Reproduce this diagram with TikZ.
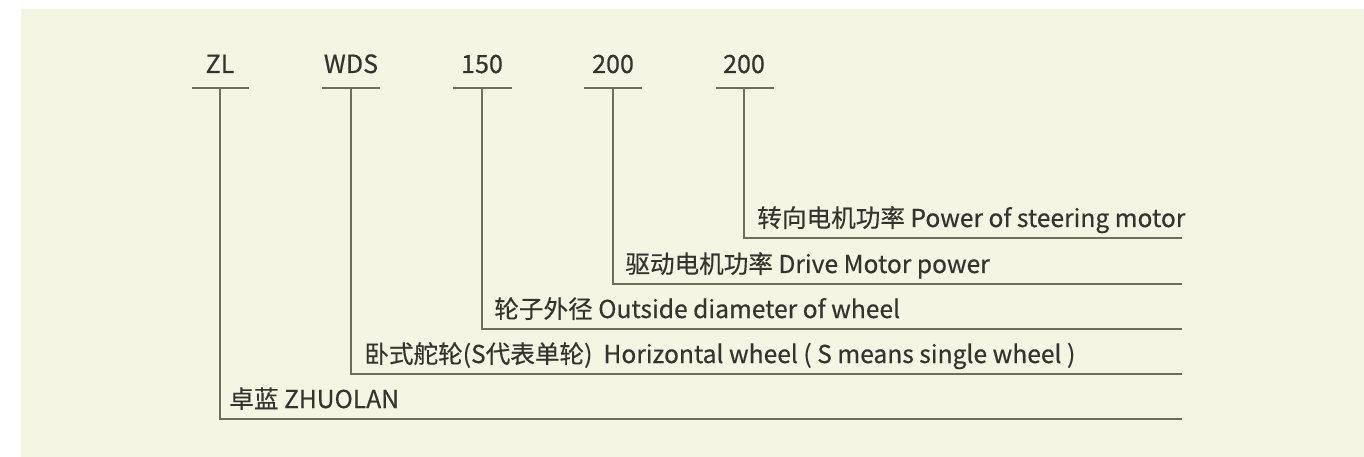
\documentclass[tikz,border=0pt]{standalone}
\usepackage{fontspec}
\setmainfont[FakeBold=0.4]{Noto Sans CJK SC}
\usetikzlibrary{positioning}

\definecolor{paper}{HTML}{F4F5E3}
\definecolor{rule}{HTML}{6E6E5E}
\definecolor{ink}{HTML}{34342F}

\begin{document}
\begin{tikzpicture}[
        x=0.2mm, y=-0.2mm,
        code/.style={
            anchor=base, inner sep=0pt, text=ink,
            font=\fontsize{14.3}{16}\selectfont
        },
        desc/.style={
            anchor=base west, inner sep=0pt, text=ink,
            font=\fontsize{14}{16}\selectfont
        },
        ln/.style={draw=rule, line width=1.1pt}
    ]

    % page and panel
    \fill[white] (0,0) rectangle (1364,457);
    \fill[paper] (21,9) rectangle (1364,457);

    % ZL
    \node[code] (c1) at (220,73) {ZL};
    \coordinate (l1) at (192,88);
    \coordinate (r1) at (249,88);
    \coordinate (t1) at (220,88);
    \coordinate (k1) at (220,419);
    \coordinate (e1) at (1182,419);
    \draw[ln] (l1) -- (r1);
    \draw[ln] (t1) -- (k1) -- (e1);
    \node[desc] (d1) at (229,408) {卓蓝 ZHUOLAN};

    % WDS
    \node[code] (c2) at (351,73) {WDS};
    \coordinate (l2) at (322,88);
    \coordinate (r2) at (380,88);
    \coordinate (t2) at (351,88);
    \coordinate (k2) at (351,374);
    \coordinate (e2) at (1182,374);
    \draw[ln] (l2) -- (r2);
    \draw[ln] (t2) -- (k2) -- (e2);
    \node[desc] (d2) at (364,363)
        {卧式舵轮(S代表单轮)\ \ Horizontal wheel ( S means single wheel )};

    % 150
    \node[code] (c3) at (482,73) {150};
    \coordinate (l3) at (453,88);
    \coordinate (r3) at (512,88);
    \coordinate (t3) at (482,88);
    \coordinate (k3) at (482,329);
    \coordinate (e3) at (1182,329);
    \draw[ln] (l3) -- (r3);
    \draw[ln] (t3) -- (k3) -- (e3);
    \node[desc] (d3) at (494,318) {轮子外径 Outside diameter of wheel};

    % 200 drive
    \node[code] (c4) at (613,73) {200};
    \coordinate (l4) at (584,88);
    \coordinate (r4) at (642,88);
    \coordinate (t4) at (613,88);
    \coordinate (k4) at (613,284);
    \coordinate (e4) at (1182,284);
    \draw[ln] (l4) -- (r4);
    \draw[ln] (t4) -- (k4) -- (e4);
    \node[desc] (d4) at (625,273) {驱动电机功率 Drive Motor power};

    % 200 steering
    \node[code] (c5) at (744,73) {200};
    \coordinate (l5) at (716,88);
    \coordinate (r5) at (774,88);
    \coordinate (t5) at (744,88);
    \coordinate (k5) at (744,238);
    \coordinate (e5) at (1182,238);
    \draw[ln] (l5) -- (r5);
    \draw[ln] (t5) -- (k5) -- (e5);
    \node[desc] (d5) at (757,227) {转向电机功率 Power of steering motor};

    \end{tikzpicture}
\end{document}
